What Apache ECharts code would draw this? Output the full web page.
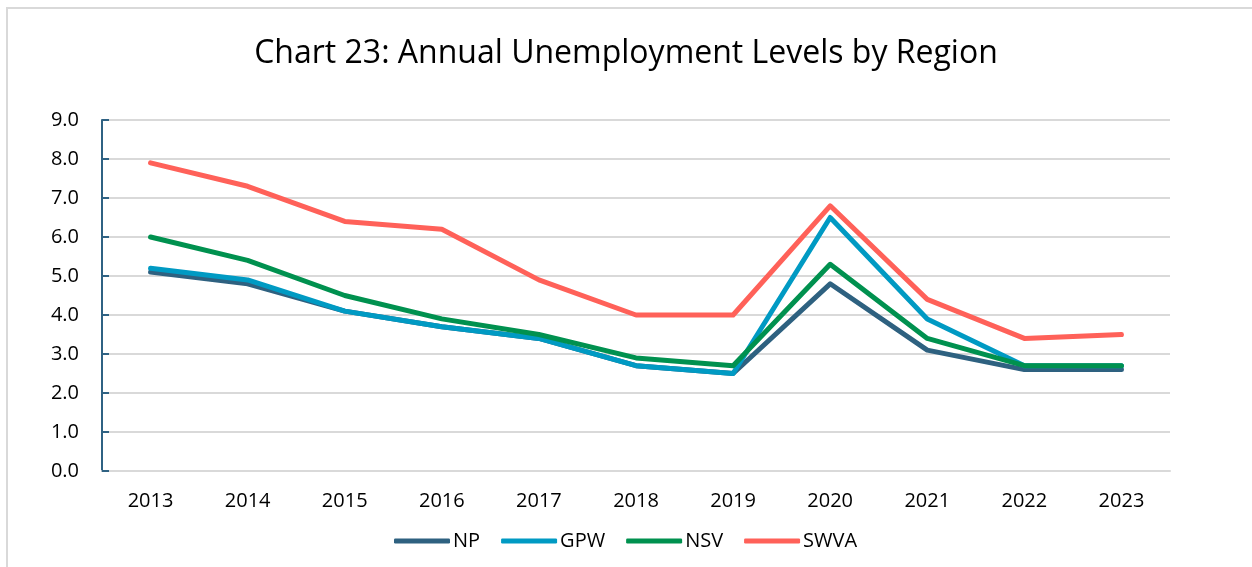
<!DOCTYPE html>
<html>
<head>
<meta charset="utf-8">
<script src="https://cdn.jsdelivr.net/npm/echarts@6/dist/echarts.min.js"></script>
<style>
  html, body { margin: 0; padding: 0; background: #fff; }
  #chart { width: 1252px; height: 567px; }
</style>
</head>
<body>
<div id="chart"></div>
<script>
  // categories and values
  const years = ['2013', '2014', '2015', '2016', '2017', '2018', '2019', '2020', '2021', '2022', '2023']
  const npData = [5.1, 4.8, 4.1, 3.7, 3.4, 2.7, 2.5, 4.8, 3.1, 2.6, 2.6]
  const gpwData = [5.2, 4.9, 4.1, 3.7, 3.4, 2.7, 2.5, 6.5, 3.9, 2.7, 2.7]
  const nsvData = [6.0, 5.4, 4.5, 3.9, 3.5, 2.9, 2.7, 5.3, 3.4, 2.7, 2.7]
  const swvaData = [7.9, 7.3, 6.4, 6.2, 4.9, 4.0, 4.0, 6.8, 4.4, 3.4, 3.5]

  const font = '"Open Sans", "Noto Sans", sans-serif'

  const makeLine = (name, color, data) => ({
    name: name,
    type: 'line',
    symbol: 'none',
    data: data,
    lineStyle: { color: color, width: 5, cap: 'round', join: 'round' },
    itemStyle: { color: color }
  })

  const myChart = echarts.init(document.getElementById('chart'))
  myChart.setOption({
    animation: false,
    backgroundColor: '#fff',
    graphic: [
      {
        type: 'rect',
        shape: { x: 7, y: 8, width: 1400, height: 700 },
        style: { fill: 'none', stroke: '#d9d9d9', lineWidth: 2 },
        silent: true
      }
    ],
    title: {
      text: 'Chart 23: Annual Unemployment Levels by Region',
      left: 'center',
      top: 33,
      textStyle: { fontFamily: font, fontSize: 32, fontWeight: 'normal', color: '#000' }
    },
    legend: {
      left: 389,
      top: 526,
      icon: 'roundRect',
      itemWidth: 56,
      itemHeight: 5,
      itemGap: 21,
      textStyle: { fontFamily: font, fontSize: 20, color: '#000', padding: [0, 0, 0, -2] },
      data: ['NP', 'GPW', 'NSV', 'SWVA']
    },
    grid: { left: 102, right: 82, top: 120, bottom: 96 },
    xAxis: {
      type: 'category',
      data: years,
      axisLine: { lineStyle: { color: '#d9d9d9', width: 2 } },
      axisTick: { show: false },
      axisLabel: { fontFamily: font, fontSize: 20, color: '#000', margin: 20 }
    },
    yAxis: {
      type: 'value',
      min: 0,
      max: 9,
      interval: 1,
      axisLine: { show: true, lineStyle: { color: '#2f6283', width: 2 } },
      axisTick: { show: true, inside: true, length: 7, lineStyle: { color: '#2f6283', width: 2 } },
      splitLine: { lineStyle: { color: '#d9d9d9', width: 2 } },
      axisLabel: {
        fontFamily: font, fontSize: 20, color: '#000', margin: 23,
        formatter: v => v.toFixed(1)
      }
    },
    series: [
      makeLine('NP', '#2e6180', npData),
      makeLine('GPW', '#009ac3', gpwData),
      makeLine('NSV', '#00914f', nsvData),
      makeLine('SWVA', '#ff6159', swvaData)
    ]
  })
</script>
</body>
</html>
